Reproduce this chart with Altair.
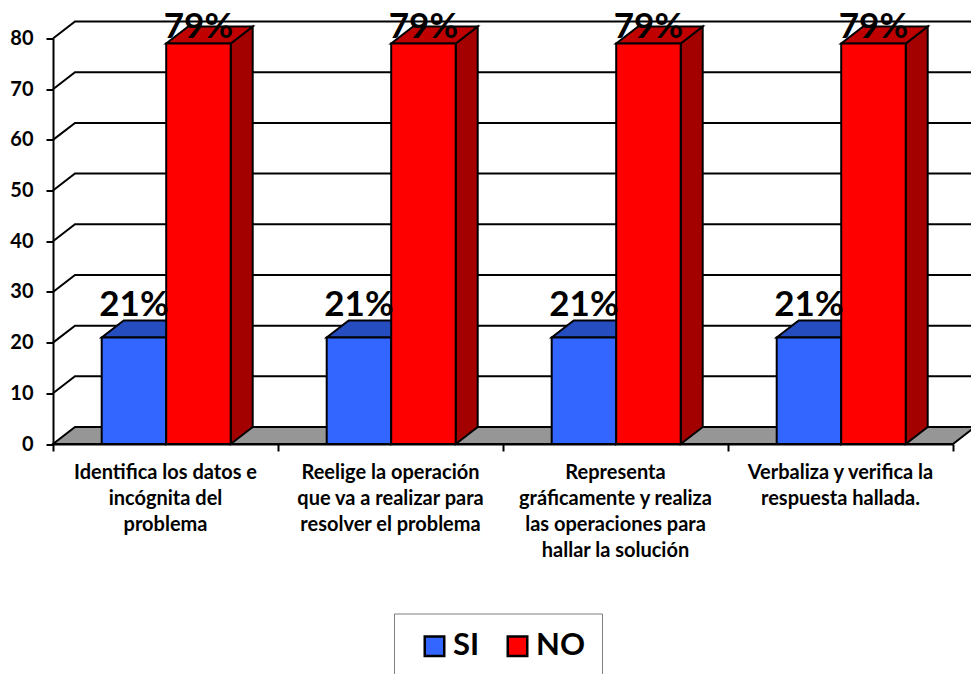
import altair as alt
import pandas as pd

# Chart values
categories = [
    "Identifica los datos e\nincógnita del\nproblema",
    "Reelige la operación\nque va a realizar para\nresolver el problema",
    "Representa\ngráficamente y realiza\nlas operaciones para\nhallar la solución",
    "Verbaliza y verifica la\nrespuesta hallada.",
]
si_values = [21, 21, 21, 21]
no_values = [79, 79, 79, 79]
y_ticks = [0, 10, 20, 30, 40, 50, 60, 70, 80]

# Pseudo-3D geometry, in axis units
DEPTH_X = 22 / 225
DEPTH_Y = 17 / 5.07
GAP = 48.7 / 225
BAR_W = 64.5 / 225

FONT = "Lato"

x_scale = alt.Scale(domain=[0, 4], nice=False, zero=False)
y_scale = alt.Scale(domain=[0, 80], nice=False, zero=False)
x_axis = alt.Axis(values=[0, 1, 2, 3, 4], labels=False, title=None, grid=False,
                  domainColor="black", domainWidth=2, tickColor="black",
                  tickWidth=2, tickSize=7)
y_axis = alt.Axis(values=y_ticks, title=None, grid=False, domainColor="black",
                  domainWidth=2, tickColor="black", tickWidth=2, tickSize=7,
                  labelFont=FONT, labelFontWeight="bold", labelFontSize=20,
                  labelColor="black", labelPadding=13)
X = alt.X("x:Q", scale=x_scale, axis=x_axis)
Y = alt.Y("y:Q", scale=y_scale, axis=y_axis)


def polygon_layer(rows, fill):
    """Parallelogram faces drawn as areas between a lower and an upper edge."""
    return alt.Chart(pd.DataFrame(rows)).mark_area(
        fill=fill, stroke="black", strokeWidth=2, opacity=1
    ).encode(x=X, y=Y, y2=alt.Y2("y2:Q"), detail="id:N")


# Floor
floor_rows = [
    {"id": 0, "x": 0, "y": 0, "y2": 0},
    {"id": 0, "x": DEPTH_X, "y": 0, "y2": DEPTH_Y},
    {"id": 0, "x": 4, "y": 0, "y2": DEPTH_Y},
    {"id": 0, "x": 4 + DEPTH_X, "y": DEPTH_Y, "y2": DEPTH_Y},
]
floor = polygon_layer(floor_rows, "#969696")

# Back-wall gridlines folded onto the left wall
grid_rows = []
for v in y_ticks[1:]:
    grid_rows += [
        {"id": v, "x": 0, "y": v},
        {"id": v, "x": DEPTH_X, "y": v + DEPTH_Y},
        {"id": v, "x": 4 + DEPTH_X, "y": v + DEPTH_Y},
    ]
grid = alt.Chart(pd.DataFrame(grid_rows)).mark_line(
    color="black", strokeWidth=2
).encode(x=X, y=Y, detail="id:N")


def faces(values, offset, top_fill, side_fill):
    top_rows, side_rows = [], []
    for i, v in enumerate(values):
        l = i + GAP + offset
        r = l + BAR_W
        top_rows += [
            {"id": i, "x": l, "y": v, "y2": v},
            {"id": i, "x": l + DEPTH_X, "y": v, "y2": v + DEPTH_Y},
            {"id": i, "x": r, "y": v, "y2": v + DEPTH_Y},
            {"id": i, "x": r + DEPTH_X, "y": v + DEPTH_Y, "y2": v + DEPTH_Y},
        ]
        side_rows += [
            {"id": i, "x": r, "y": 0, "y2": v},
            {"id": i, "x": r + DEPTH_X, "y": DEPTH_Y, "y2": v + DEPTH_Y},
        ]
    return polygon_layer(side_rows, side_fill), polygon_layer(top_rows, top_fill)


color = alt.Color(
    "serie:N",
    scale=alt.Scale(domain=["SI", "NO"], range=["#3366FF", "#FF0000"]),
    legend=alt.Legend(
        title=None,
        orient="none", legendX=341, legendY=575, direction="horizontal",
        columns=2, columnPadding=14, padding=17, strokeColor="#7f7f7f",
        symbolType="square", symbolSize=380, symbolStrokeColor="black",
        symbolStrokeWidth=2.5, symbolOffset=8, labelFont=FONT, labelFontSize=31,
        labelFontWeight="bold", labelColor="black", labelOffset=3,
    ),
)


def fronts(values, offset, name):
    rows = [
        {"serie": name, "x": i + GAP + offset, "x1": i + GAP + offset + BAR_W, "y": 0, "y2": v}
        for i, v in enumerate(values)
    ]
    return alt.Chart(pd.DataFrame(rows)).mark_rect(stroke="black", strokeWidth=2).encode(
        x=X, x2=alt.X2("x1:Q"), y=Y, y2=alt.Y2("y2:Q"), color=color
    )


def value_labels(values, offset, dy):
    rows = [
        {"x": i + GAP + offset + BAR_W / 2, "y": v, "t": f"{v}%"}
        for i, v in enumerate(values)
    ]
    return alt.Chart(pd.DataFrame(rows)).mark_text(
        font=FONT, fontWeight="bold", fontSize=35, color="black",
        baseline="alphabetic", dy=dy,
    ).encode(x=X, y=Y, text="t:N")


si_side, si_top = faces(si_values, 0, "#264DBF", "#1F3D99")
no_side, no_top = faces(no_values, BAR_W, "#C00000", "#A30000")

cat_df = pd.DataFrame({"x": [i + 0.5 for i in range(4)], "y": [0] * 4, "t": categories})
cat_labels = alt.Chart(cat_df).mark_text(
    font=FONT, fontWeight="bold", fontSize=20, color="black", baseline="top",
    align="center", lineBreak="\n", lineHeight=26, dy=19,
).encode(x=X, y=Y, text="t:N")

chart = alt.layer(
    floor, grid,
    si_side, si_top, fronts(si_values, 0, "SI"),
    no_side, no_top, fronts(no_values, BAR_W, "NO"),
    value_labels(si_values, 0, -22), value_labels(no_values, BAR_W, -6),
    cat_labels,
).properties(
    width=900, height=405.5,
    padding={"left": 53, "right": 18, "top": 38.5, "bottom": 230},
    autosize=alt.AutoSizeParams(type="none"),
    background="white",
).configure_view(stroke=None)

chart.save("out.html", embed_options={"renderer": "svg", "actions": False})
